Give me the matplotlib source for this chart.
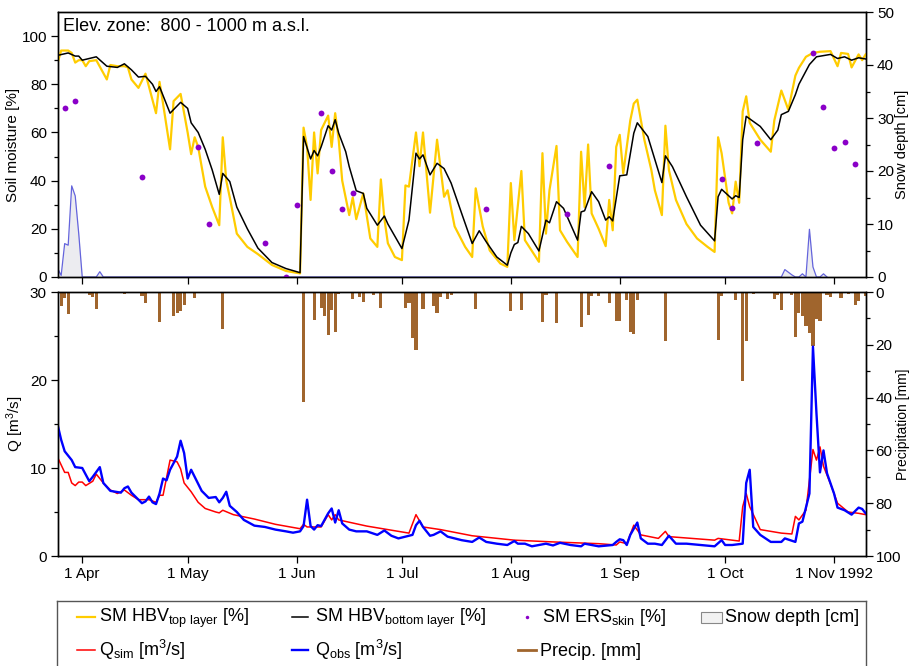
"""
HBV soil moisture / discharge panel for the 800 - 1000 m elevation zone, 1992.
Top: simulated soil moisture (two layers), ERS skin soil moisture, snow depth.
Bottom: simulated and observed discharge with daily precipitation.
Saves out.png
"""

import numpy as np
import pandas as pd
import matplotlib
matplotlib.use("Agg")
import matplotlib.pyplot as plt
from matplotlib.ticker import FixedLocator, MultipleLocator
from matplotlib.patches import Rectangle

plt.rcParams["font.family"] = ["Liberation Sans", "DejaVu Sans"]
plt.rcParams["mathtext.fontset"] = "custom"
plt.rcParams["mathtext.rm"] = "Liberation Sans"
plt.rcParams["mathtext.it"] = "Liberation Sans:italic"

START = pd.Timestamp("1992-04-01")  # all day numbers below count from 1 Apr 1992

# --- soil moisture, HBV top layer [%]
top_days = [-7, -6, -4, -3, -2, -1, 0, 1, 2, 4, 7, 8, 10, 12, 13, 14, 16, 18, 19, 21,
            22, 23, 25, 26, 28, 30, 31, 32, 33, 35, 37, 39, 40, 41, 42, 44, 47, 50, 54, 58,
            62, 63, 64, 65, 66, 67, 68, 70, 71, 72, 73, 74, 76, 77, 78, 80, 82, 84, 85, 86,
            87, 89, 91, 92, 93, 95, 96, 97, 99, 101, 103, 104, 106, 109, 111, 112, 114, 116, 119, 121,
            122, 123, 125, 126, 130, 131, 132, 133, 135, 136, 138, 139, 141, 142, 143, 144, 145, 147, 149, 150,
            151, 152, 153, 154, 156, 157, 158, 160, 162, 163, 165, 166, 167, 169, 172, 175, 178, 180, 181, 182,
            184, 185, 186, 187, 188, 189, 190, 193, 196, 197, 199, 201, 203, 204, 206, 208, 210, 213, 215, 216,
            218, 219, 221, 222, 223]
top_vals = [89, 94, 94, 93, 89, 90, 90, 87.5, 89.6, 90, 82, 88, 87.5, 87.5, 87, 82, 78.5, 84.4, 79, 68,
            81, 72, 53, 73, 76, 60, 51, 58, 54, 37.5, 29, 21.5, 58, 40, 33, 18, 12.5, 9.5, 5, 2.5,
            1.5, 62, 54, 32, 60, 43, 61, 67, 54, 68, 57, 40, 25.7, 33, 24, 34.7, 16, 12.5, 40.5, 24.3,
            14, 8.3, 7, 38, 37.5, 60, 46, 60, 26.7, 57, 33.3, 36, 21, 12.5, 8.3, 36.8, 21, 11, 5.6, 4.2,
            39, 15.3, 44, 15.3, 6.3, 51.4, 18, 36, 54.4, 19.4, 14.6, 12.5, 8.3, 52, 29, 55, 26.4, 20, 12.8, 32,
            19.4, 54, 59, 43, 65, 72, 73.6, 57, 44.4, 36, 25.7, 62.8, 44.4, 32, 22, 16, 12.5, 10.4, 58, 51.4,
            30.8, 26.4, 39.6, 30.8, 68.75, 75, 64, 57, 52, 65, 77.4, 69.4, 83.6, 86.8, 91.4, 93, 93.5, 93.75, 87.5, 93,
            92.6, 87, 92.4, 90, 92.4]

# --- soil moisture, HBV bottom layer [%]
bot_days = [-7, -4, -2, -1, 0, 4, 7, 10, 12, 14, 16, 18, 20, 21, 22, 25, 28, 30, 31, 33,
            35, 37, 39, 40, 42, 44, 47, 50, 54, 58, 62, 63, 65, 66, 67, 68, 70, 71, 72, 73,
            75, 76, 78, 80, 81, 84, 86, 87, 91, 93, 95, 96, 97, 99, 101, 103, 105, 108, 111, 113,
            115, 118, 121, 122, 123, 124, 125, 127, 130, 132, 133, 135, 137, 141, 142, 143, 145, 147, 149, 150,
            151, 153, 155, 157, 158, 161, 165, 166, 168, 172, 176, 180, 181, 182, 185, 186, 187, 188, 189, 193,
            196, 198, 199, 201, 203, 204, 207, 209, 213, 215, 217, 219, 221, 223]
bot_vals = [92, 93, 91.7, 91.7, 90, 91.4, 87.5, 87, 88.5, 86, 83, 83.3, 80, 77, 79, 68, 72.5, 70, 64, 60,
            53, 44.4, 34.3, 43, 39.6, 29, 20, 12, 6, 3.5, 1.8, 58.3, 49, 52.5, 50.3, 54, 62.8, 61, 65.3, 59.7,
            52, 45.8, 35.8, 34.7, 28.5, 21.5, 25.3, 22, 11.8, 23.6, 51.4, 49, 50.7, 42.4, 47.2, 45, 39, 26.4, 13.9, 19.2,
            14.6, 8.3, 4.9, 10, 13.5, 14.3, 21, 18, 10.8, 23.6, 22.5, 31.25, 28.5, 15.3, 27, 27.5, 35.4, 31.25, 23.6, 25,
            23.3, 42, 42.4, 59.7, 64, 58.3, 39.2, 50.3, 45.8, 33.3, 21.5, 15, 33.3, 36.4, 32.4, 33.75, 33, 57, 66.7, 62.5,
            57, 61, 67.4, 68.75, 75.7, 80, 88.2, 91.4, 92.4, 90.7, 91.4, 90, 91, 90.5]

# --- ERS skin soil moisture [%]
ers_days = [-5, -2, 17, 33, 36, 52, 58, 61, 68, 71, 74, 77, 115, 138, 150, 182, 185, 192,
            208, 211, 214, 217, 220]
ers_vals = [70, 73, 41.4, 54, 22, 14.3, 0, 30, 68, 44, 28.2, 34.7, 28.2, 26.3, 46, 40.8, 28.8, 55.6,
            93, 70.4, 53.75, 56, 47]

# --- snow depth [cm]
snow_days = [-7, -6, -5, -4, -3, -2, -1, 0, 4, 5, 6, 199, 200, 201, 202, 203, 204, 205, 206, 207,
             208, 209, 210, 211, 212]
snow_vals = [1.6, 0.3, 6.3, 6, 17.2, 15.3, 8.2, 0, 0, 1, 0, 0, 1.4, 0.9, 0.4, 0, 0, 0.6, 0, 9,
             1.9, 0, 0, 0.6, 0]

# --- observed discharge [m3/s]
qobs_days = [-7, -6, -5, -3, -2, 0, 2, 3, 5, 6, 8, 11, 12, 13, 14, 16, 17, 18, 19, 20,
             21, 22, 23, 24, 25, 27, 28, 29, 30, 31, 32, 34, 36, 38, 39, 40, 41, 42, 44, 46,
             49, 52, 55, 58, 60, 62, 63, 64, 65, 66, 67, 68, 70, 71, 72, 73, 74, 76, 78, 81,
             84, 86, 88, 90, 92, 94, 95, 96, 97, 99, 100, 102, 104, 106, 108, 111, 113, 115, 118, 121,
             123, 124, 126, 128, 132, 134, 136, 139, 142, 143, 145, 147, 151, 152, 153, 154, 155, 156, 158, 159,
             161, 163, 165, 167, 169, 172, 176, 180, 182, 183, 185, 188, 189, 190, 191, 193, 196, 199, 200, 203,
             204, 205, 207, 208, 209, 210, 211, 212, 214, 215, 217, 219, 221, 222, 223]
qobs_vals = [14.9, 13.2, 11.9, 10.9, 10.1, 10, 8.5, 9, 10.1, 8.3, 7.4, 7.2, 7.7, 7.9, 7.2, 6.4, 6, 6.2, 6.75, 6.1,
             5.9, 7.1, 8.8, 8.6, 9.8, 11.3, 13.1, 11.7, 8.8, 9.8, 9, 7.4, 6.6, 6.7, 6.1, 6.6, 7.3, 5.7, 5, 4.1,
             3.45, 3.3, 3, 2.8, 2.65, 2.8, 3.4, 6.4, 3.4, 3, 3.5, 3.4, 4.85, 5.4, 3.8, 5.2, 3.7, 3, 2.8, 2.8,
             2.4, 2.9, 2.3, 2, 2.2, 2.4, 3.5, 4, 3.3, 2.3, 2.4, 2.8, 2.2, 2, 1.8, 1.6, 2.1, 1.6, 1.4, 1.25,
             1.7, 1.4, 1.4, 1.1, 1.4, 1.2, 1.5, 1.25, 1.1, 1.4, 1.25, 1.1, 1.25, 1.6, 1.9, 1.8, 1.25, 2.4, 3.8, 2,
             1.4, 1.4, 1.25, 2.3, 1.4, 1.4, 1.25, 1.1, 1.8, 1.25, 1.25, 1.4, 8.3, 9.8, 3.3, 2.4, 1.6, 1.6, 2, 1.6,
             3.7, 3.9, 7.1, 23.8, 16.2, 9.5, 12, 9.4, 7.1, 5.5, 5.2, 4.7, 5.5, 5.35, 4.85]

# --- simulated discharge [m3/s]
qsim_days = [-7, -5, -4, -3, -2, -1, 0, 1, 3, 4, 6, 8, 10, 12, 14, 16, 19, 21, 22, 23,
             25, 27, 28, 29, 31, 33, 35, 38, 39, 40, 43, 49, 55, 62, 63, 64, 68, 70, 71, 72,
             73, 81, 93, 95, 97, 102, 111, 123, 134, 147, 152, 153, 155, 157, 159, 164, 166, 167, 180, 181,
             187, 188, 189, 190, 193, 199, 202, 203, 204, 206, 207, 208, 209, 210, 211, 213, 215, 218, 221, 223]
qsim_vals = [11.2, 9.5, 9.5, 8.3, 8, 8.4, 8.4, 8, 8.5, 9.3, 8.3, 7.5, 7.1, 7.5, 6.9, 6.4, 6.4, 6.1, 6.9, 6.9,
             10.9, 10.7, 9.9, 8.3, 7.3, 6.1, 5.4, 5, 4.9, 5.2, 4.7, 4.2, 3.6, 3.1, 3.6, 3.3, 3.3, 4.7, 4.1, 4.7,
             4.1, 3.4, 2.6, 4.7, 3.3, 3, 2.3, 1.8, 1.6, 1.4, 1.25, 1.6, 1.4, 3.5, 2.4, 2, 2.8, 2.2, 1.8, 2,
             1.7, 5.6, 7.1, 5.6, 3, 2.6, 2.5, 4.5, 4.1, 5.2, 8.6, 12.1, 10.9, 12.4, 10.2, 8.2, 6, 5, 4.85, 4.7]

# --- daily precipitation [mm]
prec_days = [-6, -5, -4, 2, 3, 4, 12, 13, 14, 17, 18, 22, 26, 27, 28, 29, 32, 40, 63, 66,
             68, 69, 70, 71, 72, 73, 77, 79, 80, 83, 85, 92, 93, 94, 95, 97, 100, 101, 102, 104,
             105, 112, 122, 125, 131, 132, 135, 142, 144, 145, 147, 150, 152, 153, 155, 156, 157, 158, 166, 181,
             182, 186, 188, 189, 191, 197, 198, 199, 202, 203, 204, 205, 206, 207, 208, 209, 210, 212, 213, 216,
             218, 220, 221, 223]
prec_vals = [5.4, 2.3, 8.3, 1, 1.9, 6.4, 0.8, 0.5, 0.5, 1.6, 4.2, 11.5, 9.2, 8, 7.3, 4.8, 2.3, 14, 41.7, 10.5,
             6, 9.2, 16.2, 6.7, 15.3, 0.6, 2.7, 1.9, 3.8, 1, 6, 6, 4.2, 17.5, 21.9, 6.4, 5.4, 8, 1.9, 2.7,
             1, 6.4, 7.3, 7, 11.5, 1, 11.8, 13.3, 8.6, 1.4, 1.6, 4.2, 10.9, 10.9, 2.9, 15.3, 15.8, 2.9, 18.7, 18.3,
             1.4, 2.9, 33.6, 18.7, 0.6, 2.7, 1, 7, 1, 17, 8, 9, 13, 15.5, 20.4, 10.2, 11.1, 1, 1.9, 2.3,
             0.6, 5, 3.5, 1.6]

tick_dates = ["1992-04-01", "1992-05-01", "1992-06-01", "1992-07-01",
              "1992-08-01", "1992-09-01", "1992-10-01", "1992-11-01"]
tick_labels = ["1 Apr", "1 May", "1 Jun", "1 Jul", "1 Aug", "1 Sep", "1 Oct", "1 Nov 1992"]

C_TOP = "#FFCC00"
C_BOT = "#000000"
C_ERS = "#8A00C8"
C_SNOW = "#6464DC"
C_SNOW_FILL = "#ECECF0"
C_QSIM = "#FF0000"
C_QOBS = "#0000FF"
C_PREC = "#A0652D"


def to_dates(days):
    return (START + pd.to_timedelta(np.asarray(days, dtype=float), unit="D")).to_numpy()


def style_axis(ax):
    ax.tick_params(which="major", direction="out", length=5, width=0.9, labelsize=11, pad=3)
    ax.tick_params(which="minor", direction="out", length=3, width=0.9)
    for sp in ax.spines.values():
        sp.set_linewidth(1.0)


W, H = 909, 666
fig = plt.figure(figsize=(W / 100, H / 100), dpi=100)
x0, x1 = 58, 866
ax1 = fig.add_axes([x0 / W, 1 - 277 / H, (x1 - x0) / W, (277 - 12) / H])
ax2 = fig.add_axes([x0 / W, 1 - 556 / H, (x1 - x0) / W, (556 - 292) / H])
ax1r = ax1.twinx()
ax2r = ax2.twinx()

xlim = (to_dates([-6.9])[0], to_dates([223.1])[0])
ticks = pd.to_datetime(tick_dates).to_numpy()

# ---- top panel
ax1r.fill_between(to_dates(snow_days), 0, snow_vals, color=C_SNOW_FILL, lw=0)
ax1r.plot(to_dates(snow_days), snow_vals, color=C_SNOW, lw=0.9)
ax1.plot(to_dates(top_days), top_vals, color=C_TOP, lw=1.6)
ax1.plot(to_dates(bot_days), bot_vals, color=C_BOT, lw=1.1)
ax1.plot(to_dates(ers_days), ers_vals, "o", color=C_ERS, ms=4.2, mec="none")
ax1.set_zorder(ax1r.get_zorder() + 1)
ax1.patch.set_visible(False)

ax1.set_xlim(xlim)
ax1.set_ylim(0, 110)
ax1.yaxis.set_major_locator(FixedLocator([0, 20, 40, 60, 80, 100]))
ax1.yaxis.set_minor_locator(FixedLocator([10, 30, 50, 70, 90]))
ax1.set_xticks(ticks)
ax1.set_xticklabels([])
ax1r.set_ylim(0, 50)
ax1r.yaxis.set_major_locator(MultipleLocator(10))
ax1r.yaxis.set_minor_locator(FixedLocator([5, 15, 25, 35, 45]))
ax1.set_ylabel("Soil moisture [%]", fontsize=11, labelpad=1)
ax1r.set_ylabel("Snow depth [cm]", fontsize=10.5, labelpad=1)
ax1.text(0.006, 0.928, "Elev. zone:  800 - 1000 m a.s.l.", transform=ax1.transAxes,
         fontsize=13, va="baseline", ha="left")

# ---- bottom panel
ax2r.bar(to_dates(prec_days), prec_vals, width=0.9, color=C_PREC, lw=0)
ax2.plot(to_dates(qsim_days), qsim_vals, color=C_QSIM, lw=1.1)
ax2.plot(to_dates(qobs_days), qobs_vals, color=C_QOBS, lw=1.7)
ax2.set_zorder(ax2r.get_zorder() + 1)
ax2.patch.set_visible(False)

ax2.set_xlim(xlim)
ax2.set_ylim(0, 30)
ax2.yaxis.set_major_locator(MultipleLocator(10))
ax2.yaxis.set_minor_locator(FixedLocator([5, 15, 25]))
ax2.set_xticks(ticks)
ax2.set_xticklabels(tick_labels)
ax2r.set_ylim(100, 0)
ax2r.yaxis.set_major_locator(MultipleLocator(20))
ax2r.yaxis.set_minor_locator(FixedLocator([10, 30, 50, 70, 90]))
ax2.set_ylabel("Q [m$^3$/s]", fontsize=11, labelpad=3)
ax2r.set_ylabel("Precipitation [mm]", fontsize=10, labelpad=-3.5)

for ax in (ax1, ax1r, ax2, ax2r):
    style_axis(ax)
ax1.tick_params(axis="x", which="both", top=False)
ax2r.tick_params(axis="y", which="major", pad=2)

# ---- legend box below the panels (drawn in pixel units)
lg = fig.add_axes([57 / W, -0.02, (866 - 57) / W, 0.02 + (666 - 601) / H])
lg.set_xlim(57, 866)
lg.set_ylim(666 + 0.02 * H, 601)
lg.set_xticks([])
lg.set_yticks([])
lg.patch.set_visible(False)
for sp in lg.spines.values():
    sp.set_color("#555555")
    sp.set_linewidth(1.0)

row1, row2 = 617, 650
fs = 13
lg.plot([77, 95], [row1, row1], color=C_TOP, lw=1.6)
lg.text(99, row1 + 5.5, r"SM HBV$_\mathregular{top\ layer}$ [%]", fontsize=fs, va="baseline")
lg.plot([292, 308], [row1, row1], color=C_BOT, lw=1.1)
lg.text(315, row1 + 5.5, r"SM HBV$_\mathregular{bottom\ layer}$ [%]", fontsize=fs, va="baseline")
lg.plot([527], [row1], "o", color=C_ERS, ms=2.5, mec="none")
lg.text(542, row1 + 5.5, r"SM ERS$_\mathregular{skin}$ [%]", fontsize=fs, va="baseline")
lg.add_patch(Rectangle((701, 612), 21, 11, facecolor="#F2F2F2", edgecolor="#888888", lw=0.8))
lg.text(725, row1 + 5.5, "Snow depth [cm]", fontsize=fs, va="baseline")
lg.plot([77, 95], [row2, row2], color=C_QSIM, lw=1.1)
lg.text(99, row2 + 5.5, r"Q$_\mathregular{sim}$ [m$^\mathregular{3}$/s]", fontsize=fs, va="baseline")
lg.plot([292, 308], [row2, row2], color=C_QOBS, lw=1.7)
lg.text(315, row2 + 5.5, r"Q$_\mathregular{obs}$ [m$^\mathregular{3}$/s]", fontsize=fs, va="baseline")
lg.plot([518, 536], [row2, row2], color=C_PREC, lw=2.0)
lg.text(540, row2 + 5.5, "Precip. [mm]", fontsize=fs, va="baseline")

fig.savefig("out.png", dpi=100)
